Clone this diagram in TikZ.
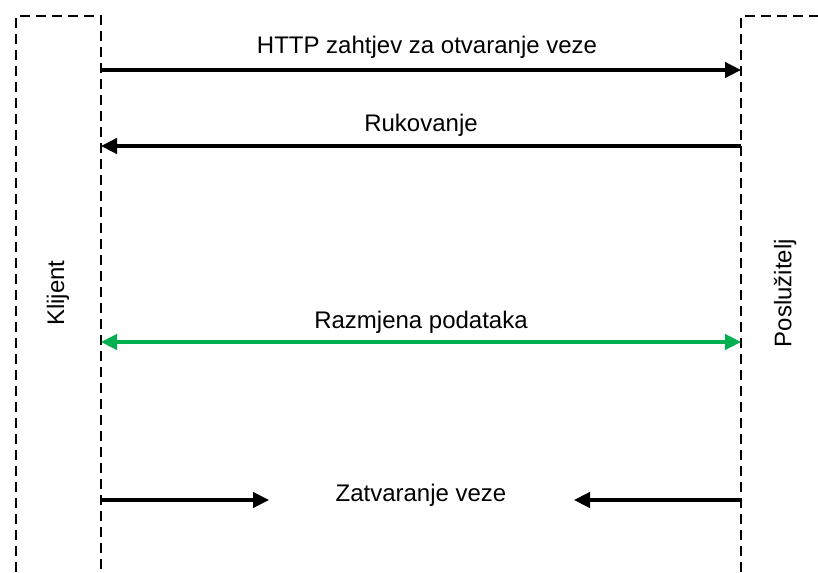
\documentclass[tikz,border=0pt]{standalone}
\usepackage{fontspec}
\setmainfont{Liberation Sans}
\usetikzlibrary{arrows.meta}
\definecolor{offgreen}{RGB}{0,176,80}
\begin{document}
\begin{tikzpicture}[x=0.75pt,y=-0.75pt,
  lane/.style={line width=1.7pt,dash pattern=on 7.5pt off 4.5pt},
  msg/.style={line width=2.5pt,-{Triangle[length=12pt,width=11.5pt]}},
  lbl/.style={font=\fontsize{18}{21}\selectfont,inner sep=0pt},
  lanelbl/.style={font=\fontsize{18}{21}\selectfont,inner sep=0pt}]
\useasboundingbox (0,0) rectangle (818,572);
% lanes
\coordinate (lbl) at (16,572);
\coordinate (ltl) at (16,16);
\coordinate (ltr) at (101,16);
\coordinate (lbr) at (101,572);
\coordinate (rbl) at (741,572);
\coordinate (rtl) at (741,16);
\coordinate (rtr) at (818,16);
\draw[lane] (lbl) -- (ltl) -- (ltr) -- (lbr);
\draw[lane] (rbl) -- (rtl) -- (rtr);
\node[lanelbl,rotate=90] (klijent) at (58,293) {Klijent};
\node[lanelbl,rotate=90] (posl) at (785,293) {Poslužitelj};
% messages
\coordinate (a1) at (101,70); \coordinate (b1) at (741,70);
\draw[msg] (a1) -- (b1);
\node[lbl] (t1) at (427,47) {HTTP zahtjev za otvaranje veze};
\coordinate (a2) at (101,146); \coordinate (b2) at (741,146);
\draw[msg] (b2) -- (a2);
\node[lbl] (t2) at (421,125) {Rukovanje};
\coordinate (a3) at (101,342); \coordinate (b3) at (741,342);
\draw[msg,offgreen,{Triangle[length=12pt,width=11.5pt]}-{Triangle[length=12pt,width=11.5pt]}] (a3) -- (b3);
\node[lbl] (t3) at (421,322) {Razmjena podataka};
\coordinate (a4) at (101,500); \coordinate (c4) at (269,500);
\coordinate (b4) at (741,500); \coordinate (d4) at (574,500);
\draw[msg] (a4) -- (c4);
\draw[msg] (b4) -- (d4);
\node[lbl] (t4) at (421,495) {Zatvaranje veze};
\end{tikzpicture}
\end{document}
